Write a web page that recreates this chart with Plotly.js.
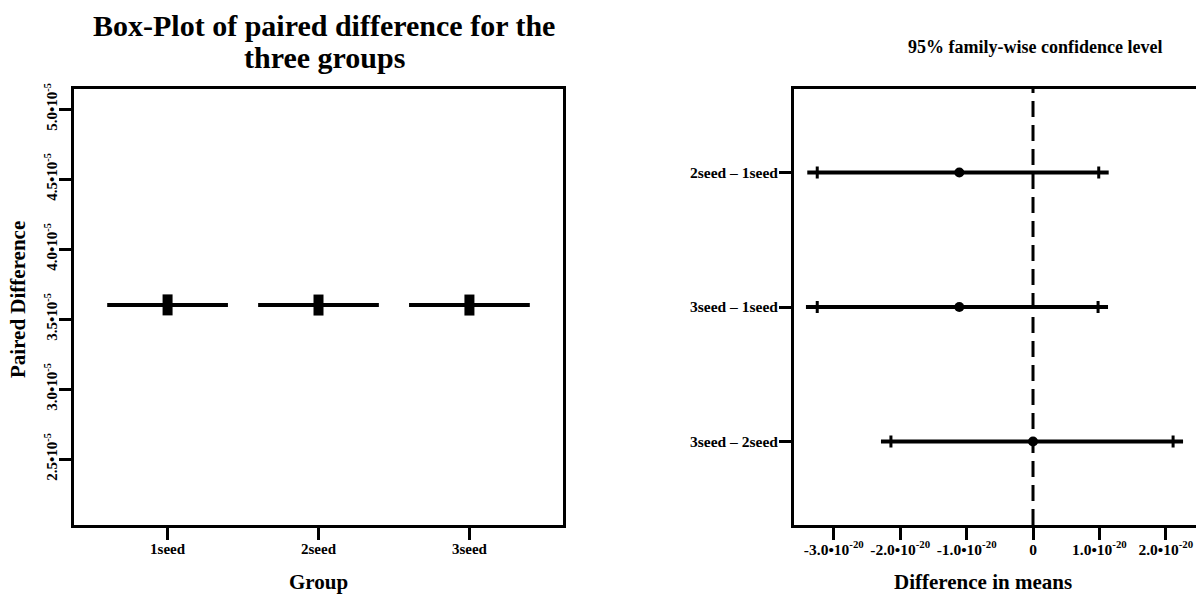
<!DOCTYPE html>
<html><head><meta charset="utf-8">
<script src="https://cdn.plot.ly/plotly-3.0.1.min.js"></script>
<style>html,body{margin:0;padding:0;overflow:hidden;background:#fff}#chart{width:1290px;height:598px}</style>
</head><body><div id="chart"></div><script>
// ---- Left panel data ----
const groups = ['1seed', '2seed', '3seed'];
const groupMedians = [3.601e-5, 3.600e-5, 3.600e-5];
const groupMeans = [3.601e-5, 3.600e-5, 3.600e-5];
const yTickVals = [2.5e-5, 3.0e-5, 3.5e-5, 4.0e-5, 4.5e-5, 5.0e-5];
const yTickText = ['2.5•10<sup>-5</sup>', '3.0•10<sup>-5</sup>', '3.5•10<sup>-5</sup>', '4.0•10<sup>-5</sup>', '4.5•10<sup>-5</sup>', '5.0•10<sup>-5</sup>'];

// ---- Right panel data (Tukey HSD) ----
const comparisons = ['2seed – 1seed', '3seed – 1seed', '3seed – 2seed'];
const diffs = [-1.11e-20, -1.11e-20, 0];
const lowers = [-3.25e-20, -3.25e-20, -2.14e-20];
const uppers = [0.99e-20, 0.98e-20, 2.11e-20];
const segStart = [-3.40e-20, -3.42e-20, -2.29e-20];
const segEnd = [1.14e-20, 1.13e-20, 2.26e-20];
const xTickVals = [-3e-20, -2e-20, -1e-20, 0, 1e-20, 2e-20];
const xTickText = ['-3.0•10<sup>-20</sup>', '-2.0•10<sup>-20</sup>', '-1.0•10<sup>-20</sup>', '0', '1.0•10<sup>-20</sup>', '2.0•10<sup>-20</sup>'];
const refLine = 0;

const W = 1290, H = 598;
const FONT = 'Liberation Serif, Times New Roman, serif';
const tf = (s) => ({family: FONT, size: s, color: '#000', weight: 'bold'});

const traces = [];
traces.push({
  type: 'box', x: groups, q1: groupMedians, median: groupMedians, q3: groupMedians,
  lowerfence: groupMedians, upperfence: groupMedians, width: 0.8, whiskerwidth: 0,
  line: {color: '#000', width: 4}, fillcolor: '#000', boxpoints: false,
  xaxis: 'x', yaxis: 'y', hoverinfo: 'skip'
});
traces.push({
  type: 'scatter', mode: 'markers', x: groups, y: groupMeans,
  marker: {symbol: 'line-ns', size: 15, color: '#000', line: {color: '#000', width: 10}},
  xaxis: 'x', yaxis: 'y'
});
for (let i = 0; i < comparisons.length; i++) {
  traces.push({
    type: 'scatter', mode: 'lines', x: [segStart[i], segEnd[i]], y: [comparisons[i], comparisons[i]],
    line: {color: '#000', width: 4}, xaxis: 'x2', yaxis: 'y2'
  });
}
traces.push({
  type: 'scatter', mode: 'markers', x: diffs, y: comparisons,
  marker: {symbol: 'circle', size: 10, color: '#000'},
  error_x: {type: 'data', symmetric: false,
    array: uppers.map((u, i) => u - diffs[i]),
    arrayminus: lowers.map((l, i) => diffs[i] - l),
    thickness: 3, width: 6, color: '#000'},
  xaxis: 'x2', yaxis: 'y2'
});

const axBase = {
  showline: true, linecolor: '#000', linewidth: 3, mirror: true,
  ticks: 'outside', ticklen: 12, tickwidth: 3, tickcolor: '#000',
  showgrid: false, zeroline: false, fixedrange: true
};
const yDom = [73 / H, 509 / H];

const layout = {
  width: W, height: H, margin: {l: 0, r: 0, t: 0, b: 0},
  paper_bgcolor: '#fff', plot_bgcolor: '#fff', showlegend: false,
  font: {family: FONT, color: '#000'},
  xaxis: Object.assign({}, axBase, {domain: [74 / W, 563 / W], type: 'category', categoryarray: groups,
    range: [-0.62, 2.62], anchor: 'y', tickfont: tf(15), ticklabelstandoff: -4}),
  yaxis: Object.assign({}, axBase, {domain: yDom, range: [2.029e-5, 5.143e-5], anchor: 'x',
    tickvals: yTickVals, ticktext: yTickText, tickangle: -90, tickfont: tf(15), ticklabelstandoff: -4}),
  xaxis2: Object.assign({}, axBase, {domain: [794 / W, 1276 / W], range: [-3.6e-20, 3.66e-20], anchor: 'y2',
    tickvals: xTickVals, ticktext: xTickText, tickfont: tf(15.5), ticklabelstandoff: -4}),
  yaxis2: Object.assign({}, axBase, {domain: yDom, type: 'category', categoryarray: comparisons.slice().reverse(),
    range: [-0.62, 2.62], anchor: 'x2', tickfont: tf(15.5), ticklabelstandoff: -2}),
  shapes: [{type: 'line', xref: 'x2', yref: 'y2 domain', x0: refLine, x1: refLine, y0: 0, y1: 1,
    line: {color: '#000', width: 3, dash: '16px,8px'}}],
  annotations: [
    {text: 'Box-Plot of paired difference for the', xref: 'paper', yref: 'paper', x: 324 / W, y: 1 - 26 / H,
      xanchor: 'center', yanchor: 'middle', showarrow: false, font: tf(30)},
    {text: 'three groups', xref: 'paper', yref: 'paper', x: 324 / W, y: 1 - 57 / H,
      xanchor: 'center', yanchor: 'middle', showarrow: false, font: tf(30)},
    {text: 'Paired Difference', xref: 'paper', yref: 'paper', x: 18 / W, y: 1 - 300 / H, textangle: -90,
      xanchor: 'center', yanchor: 'middle', showarrow: false, font: tf(21)},
    {text: 'Group', xref: 'paper', yref: 'paper', x: 318 / W, y: 1 - 582 / H,
      xanchor: 'center', yanchor: 'middle', showarrow: false, font: tf(21)},
    {text: '95% family-wise confidence level', xref: 'paper', yref: 'paper', x: 1035 / W, y: 1 - 47 / H,
      xanchor: 'center', yanchor: 'middle', showarrow: false, font: tf(18)},
    {text: 'Difference in means', xref: 'paper', yref: 'paper', x: 983 / W, y: 1 - 582 / H,
      xanchor: 'center', yanchor: 'middle', showarrow: false, font: tf(21)}
  ]
};
Plotly.newPlot('chart', traces, layout, {displayModeBar: false, staticPlot: true});
</script></body></html>
